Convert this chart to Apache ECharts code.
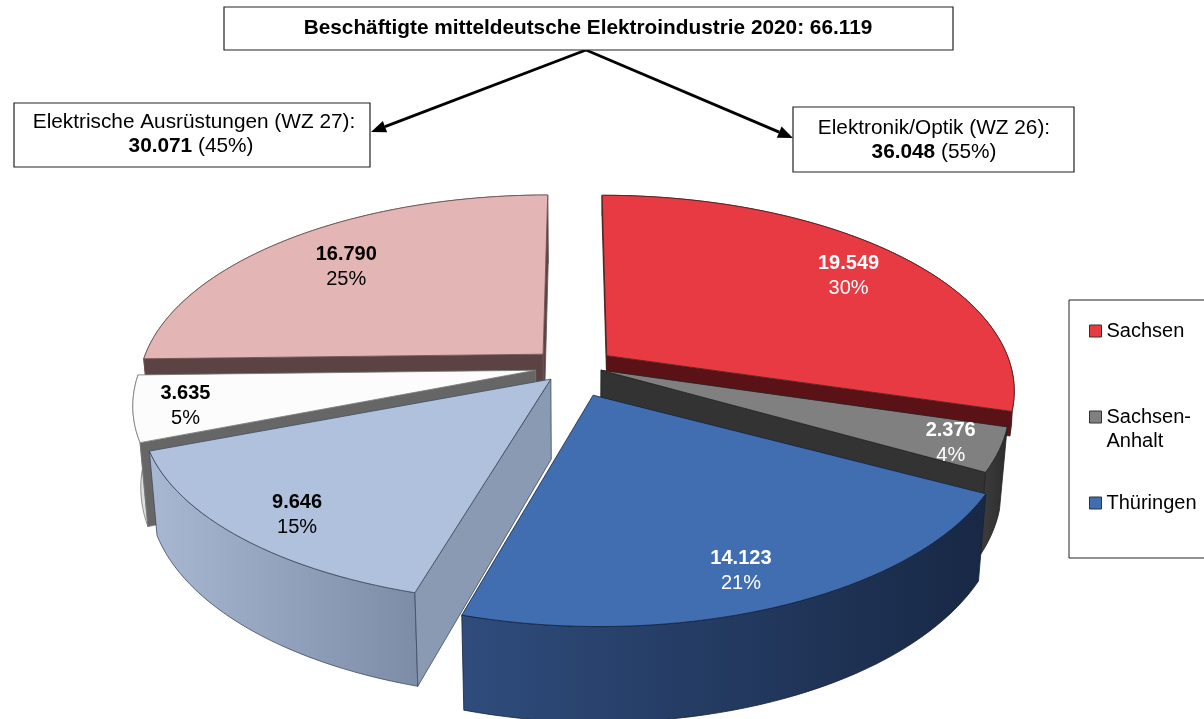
<!DOCTYPE html>
<html>
<head>
<meta charset="utf-8">
<style>html,body{margin:0;padding:0;background:#fff}#chart{width:1204px;height:719px}</style>
<script src="https://cdn.jsdelivr.net/npm/echarts@6/dist/echarts.min.js"></script>
</head>
<body>
<div id="chart"></div>
<script>
var regions = ['Sachsen', 'Sachsen-Anhalt', 'Thüringen'];
var elektronik = [19549, 2376, 14123];   // WZ 26
var ausruestung = [16790, 3635, 9646];   // WZ 27
var total = 66119;

var FONT = '"Liberation Sans", Arial, sans-serif';

// slices run clockwise from 12 o'clock: WZ 26 first, then WZ 27 backwards
var order = [[0, 'e'], [1, 'e'], [2, 'e'], [2, 'a'], [1, 'a'], [0, 'a']];
// walls = which side walls get drawn, shift/size/apex/depth nudge the slice to the photographed shape
var looks = {
    '0e': { top: '#e83a42', cut: '#5a1216', rim: ['#5a1216', '#5a1216'], line: '#4a2020', text: '#fff', walls: ['start', 'end'], explode: 0.1, shift: [0, 0.01], size: [1.01, 1.01], apex: [0, 0], depth: 0.3, labelR: 0.8, labelAt: [9, 0] },
    '1e': { top: '#808080', cut: '#333333', rim: ['#3a3a3a', '#2c2c2c'], line: '#222', text: '#fff', walls: ['end'], explode: 0.07, shift: [0, 0], size: [1, 1], apex: [0, 0], depth: 1, labelR: 0.89, labelAt: [-2, 0] },
    '2e': { top: '#416eb0', cut: '#1a2a4a', rim: ['#2f4c7c', '#182845'], line: '#14213c', text: '#fff', walls: [], explode: 0.13, shift: [0, 0], size: [1, 1], apex: [-0.005, 0.035], depth: 1, labelR: 0.85, labelAt: [-9, 0] },
    '2a': { top: '#afc1dc', cut: '#8b9ab3', rim: ['#a8b8d2', '#7e8da7'], line: '#3c4a60', text: '#000', walls: ['start'], explode: 0.1, shift: [0.017, 0], size: [1.005, 0.965], apex: [-0.009, 0], depth: 1, labelR: 0.83, labelAt: [-1, 0] },
    '1a': { top: '#fcfcfc', cut: '#666666', rim: ['#f2f2f2', '#dddddd'], line: '#777', text: '#000', walls: ['start'], explode: 0.1, shift: [0, 0.008], size: [0.985, 0.985], apex: [0, 0], depth: 1, labelR: 0.86, labelAt: [0, 0] },
    '0a': { top: '#e4b5b5', cut: '#5c4343', rim: ['#5c4343', '#5c4343'], line: '#6a5050', text: '#000', walls: ['start', 'end'], explode: 0.1, shift: [-0.009, 0.012], size: [1.004, 1.004], apex: [0, 0], depth: 1, labelR: 0.75, labelAt: [-4, -1] }
};

// perspective of the disc
var cx = 575, cy = 365, rx = 400, ry = 189, persp = 0.17;
var bottomX = 0.982, bottomY = 1.064, bottomH = 79;

function project(u, v) {
    var d = 1 - persp * v;
    return [cx + rx * u / d, cy + ry * v / d];
}
function lower(p, depth) {
    var x = cx + (p[0] - cx) * bottomX, y = cy + (p[1] - cy) * bottomY + bottomH;
    return [p[0] + (x - p[0]) * depth, p[1] + (y - p[1]) * depth];
}
function fmt(n) {
    return String(n).replace(/\B(?=(\d{3})+$)/g, '.');
}
function pct(n, all) {
    return Math.round(n / all * 100) + '%';
}

var angles = {};
var sum = 0;
order.forEach(function (o) {
    var v = (o[1] == 'e' ? elektronik : ausruestung)[o[0]];
    var a0 = echarts.number.linearMap(sum, [0, total], [0, Math.PI * 2]);
    sum += v;
    var a1 = echarts.number.linearMap(sum, [0, total], [0, Math.PI * 2]);
    angles[o[0] + o[1]] = [a0, a1];
});

function renderSlice(params, api) {
    var key = regions.indexOf(params.seriesName) + (api.value(1) == 0 ? 'a' : 'e');
    var look = looks[key];
    var a0 = angles[key][0], a1 = angles[key][1], mid = (a0 + a1) / 2;
    var ox = look.explode * Math.sin(mid) + look.shift[0], oy = -look.explode * Math.cos(mid) + look.shift[1];
    var apex = project(ox + look.apex[0], oy + look.apex[1]);
    var arc = [];
    var n = Math.max(4, Math.round((a1 - a0) / 0.03));
    for (var i = 0; i <= n; i++) {
        var a = a0 + (a1 - a0) * i / n;
        arc.push(project(ox + look.size[0] * Math.sin(a), oy - look.size[1] * Math.cos(a)));
    }
    var low = function (p) { return lower(p, look.depth); };
    var arcLow = arc.map(low).reverse();
    var apexLow = low(apex);
    var first = arc[0], last = arc[arc.length - 1];
    var xs = arc.map(function (p) { return p[0]; });
    var xMin = Math.min.apply(null, xs), xMax = Math.max.apply(null, xs);
    function poly(pts, fill) {
        return { type: 'polygon', shape: { points: pts }, style: { fill: fill, stroke: look.line, lineWidth: 0.8 } };
    }
    function wall(p) {
        return poly([apex, p, low(p), apexLow], look.cut);
    }
    var kids = [];
    kids.push(poly(arc.concat(arcLow), {
        type: 'linear', global: true, x: xMin, y: 0, x2: xMax, y2: 0,
        colorStops: [{ offset: 0, color: look.rim[0] }, { offset: 1, color: look.rim[1] }]
    }));
    look.walls.forEach(function (w) {
        kids.push(wall(w == 'start' ? first : last));
    });
    kids.push(poly([apex].concat(arc), look.top));

    var val = api.value(0);
    var lr = look.labelR;
    var lp = project(ox + lr * Math.sin(mid), oy - lr * Math.cos(mid));
    var lx = lp[0] + look.labelAt[0], ly = lp[1] + look.labelAt[1] + 3;
    kids.push({ type: 'text', style: { text: fmt(val), x: lx, y: ly - 12.5, align: 'center', verticalAlign: 'middle', fill: look.text, font: 'bold 20px ' + FONT } });
    kids.push({ type: 'text', style: { text: pct(val, total), x: lx, y: ly + 12.5, align: 'center', verticalAlign: 'middle', fill: look.text, font: '20px ' + FONT } });
    return { type: 'group', children: kids };
}

var regionColors = ['#e83a42', '#808080', '#416eb0'];
// painter's order: back slice first inside each region, regions back to front
var series = regions.map(function (name, i) {
    return {
        name: name,
        type: 'custom',
        coordinateSystem: 'none',
        itemStyle: { color: regionColors[i] },
        renderItem: renderSlice,
        animation: false,
        data: [[ausruestung[i], 0], [elektronik[i], 1]]
    };
});

function sumOf(arr) {
    return arr.reduce(function (a, b) { return a + b; }, 0);
}
function box(x, y, w, h) {
    return { type: 'rect', shape: { x: x, y: y, width: w, height: h }, style: { fill: '#fff', stroke: '#222', lineWidth: 1.2 }, z: 5 };
}
function label(x, y, text, size, bold) {
    return { type: 'text', x: x, y: y, z: 6, style: { text: text, align: 'center', verticalAlign: 'middle', fill: '#000', font: (bold ? 'bold ' : '') + size + 'px ' + FONT } };
}
function richLabel(x, y, a, b, size) {
    return {
        type: 'text', x: x, y: y, z: 6,
        style: {
            text: '{b|' + a + '} ' + b, align: 'center', verticalAlign: 'middle', fill: '#000', font: size + 'px ' + FONT,
            rich: { b: { font: 'bold ' + size + 'px ' + FONT, fill: '#000' } }
        }
    };
}
function arrow(x0, y0, x1, y1) {
    var t = Math.atan2(y1 - y0, x1 - x0), len = 15, w = 6;
    var bx = x1 - len * Math.cos(t), by = y1 - len * Math.sin(t);
    return [
        { type: 'line', z: 4, shape: { x1: x0, y1: y0, x2: bx, y2: by }, style: { stroke: '#000', lineWidth: 2.8 } },
        { type: 'polygon', z: 4, shape: { points: [[x1, y1], [bx - w * Math.sin(t), by + w * Math.cos(t)], [bx + w * Math.sin(t), by - w * Math.cos(t)]] }, style: { fill: '#000' } }
    ];
}

var wz26 = sumOf(elektronik), wz27 = sumOf(ausruestung);
var chart = echarts.init(document.getElementById('chart'), null, { renderer: 'canvas' });
chart.setOption({
    animation: false,
    backgroundColor: '#fff',
    legend: {
        orient: 'vertical',
        left: 1069,
        top: 300,
        padding: [19, 12, 43, 20],
        borderColor: '#222',
        borderWidth: 1,
        itemWidth: 12,
        itemHeight: 12,
        itemGap: 38,
        selectedMode: false,
        icon: 'rect',
        itemStyle: { borderColor: '#333', borderWidth: 1 },
        textStyle: { fontFamily: 'Liberation Sans', fontSize: 20, color: '#000', lineHeight: 24 },
        // blank first line keeps the key level with "Sachsen-"
        formatter: function (name) {
            return name == 'Sachsen-Anhalt' ? ' \nSachsen-\nAnhalt' : name;
        },
        data: regions
    },
    graphic: [
        box(224, 7, 729, 43),
        label(588, 28, 'Beschäftigte mitteldeutsche Elektroindustrie 2020: ' + fmt(total), 20.8, true),
        box(14, 103, 356, 64),
        label(194, 122, 'Elektrische Ausrüstungen (WZ 27):', 20.8, false),
        richLabel(191, 146, fmt(wz27), '(' + pct(wz27, total) + ')', 20.8),
        box(793, 107, 281, 65),
        label(934, 128, 'Elektronik/Optik (WZ 26):', 20.8, false),
        richLabel(934, 152, fmt(wz26), '(' + pct(wz26, total) + ')', 20.8)
    ].concat(arrow(586, 50, 371, 132), arrow(586, 50, 793, 138)),
    series: series
});
</script>
</body>
</html>
